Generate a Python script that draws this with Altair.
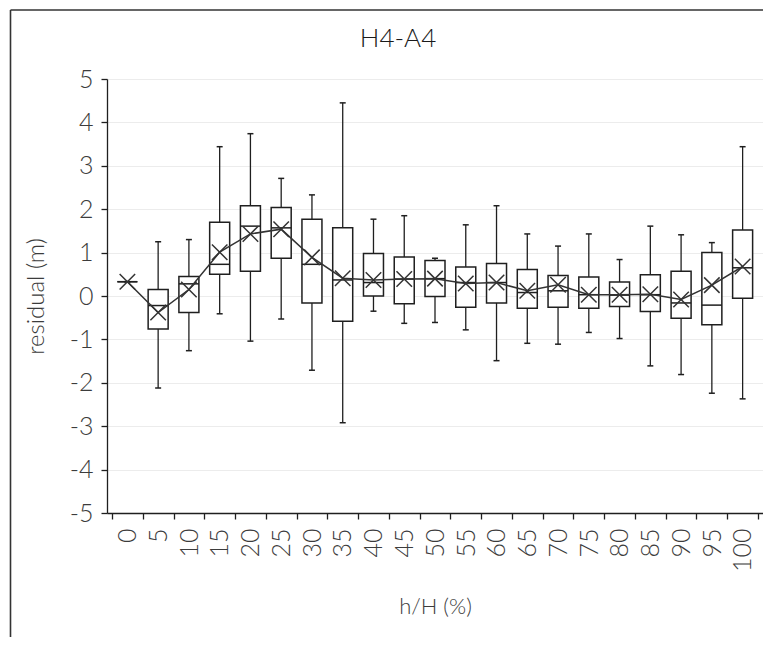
import altair as alt
import pandas as pd

cats = [0, 5, 10, 15, 20, 25, 30, 35, 40, 45, 50, 55, 60, 65, 70, 75, 80, 85, 90, 95, 100]
whisk_hi = [0.33, 1.25, 1.30, 3.44, 3.74, 2.71, 2.33, 4.45, 1.77, 1.85, 0.87, 1.64, 2.08, 1.43, 1.15, 1.43, 0.84, 1.61, 1.41, 1.23, 3.44]
q3 = [0.33, 0.15, 0.45, 1.70, 2.08, 2.04, 1.77, 1.57, 0.98, 0.90, 0.82, 0.67, 0.75, 0.61, 0.47, 0.44, 0.32, 0.49, 0.57, 1.00, 1.52]
median = [0.33, -0.22, 0.28, 0.73, 1.61, 1.57, 0.73, 0.37, 0.31, 0.39, 0.40, 0.31, 0.31, 0.08, 0.12, 0.03, 0.02, 0.03, -0.16, -0.21, 0.65]
mean = [0.33, -0.38, 0.15, 1.01, 1.43, 1.54, 0.89, 0.41, 0.37, 0.39, 0.40, 0.29, 0.31, 0.12, 0.26, 0.03, 0.03, 0.04, -0.08, 0.25, 0.68]
q1 = [0.33, -0.76, -0.38, 0.50, 0.57, 0.87, -0.16, -0.58, 0.00, -0.18, -0.01, -0.26, -0.16, -0.28, -0.26, -0.28, -0.24, -0.36, -0.51, -0.66, -0.05]
whisk_lo = [0.33, -2.12, -1.26, -0.41, -1.04, -0.53, -1.71, -2.92, -0.35, -0.63, -0.61, -0.78, -1.49, -1.09, -1.11, -0.84, -0.98, -1.61, -1.81, -2.24, -2.37]
title_text = "H4-A4"

df = pd.DataFrame({"cat": cats, "hi": whisk_hi, "q3": q3, "med": median,
                   "mean": mean, "q1": q1, "lo": whisk_lo})

FONT = "Lato"
TXT = "#3c3c3c"
INK = "#1f1f1f"

W, H = 656, 434
band = W / len(cats)

boundaries = [c - 2.5 for c in cats] + [102.5]

xscale = alt.Scale(domain=[-2.5, 102.5], nice=False, zero=False)
yscale = alt.Scale(domain=[-5, 5], nice=False)

xaxis = alt.Axis(values=boundaries, tickCount=100,
                 labelExpr="datum.value > 101 ? '' : '' + (datum.value + 2.5)",
                 labelAngle=270, labelAlign="right", labelBaseline="middle",
                 labelOffset=band / 2, labelPadding=9, labelFont=FONT, labelFontSize=25,
                 labelFontWeight=300,
                 labelColor=TXT, tickSize=6, tickColor=INK, domainColor=INK,
                 tickWidth=1.3, domainWidth=1.3, grid=False, title="h/H (%)",
                 titleFont=FONT, titleFontSize=22, titleFontWeight=300, titleColor=TXT,
                 titleX=W / 2, titleY=100, titleBaseline="alphabetic", titleAlign="center",
                 labelFlush=False, labelOverlap=False)
yaxis = alt.Axis(values=list(range(-5, 6)), tickCount=20, labelExpr="'' + datum.value",
                 labelFont=FONT, labelFontSize=25, labelFontWeight=300, labelColor=TXT,
                 labelPadding=8, labelOverlap=False,
                 tickSize=6, tickColor=INK, domainColor=INK, tickWidth=1.3, domainWidth=1.3,
                 grid=True, gridColor="#ececec", gridWidth=1,
                 title="residual (m)", titleFont=FONT, titleFontSize=24,
                 titleFontWeight=300, titleColor=TXT, titleAngle=270,
                 titleX=-64, titleY=H / 2, titleBaseline="alphabetic", titleAlign="center")

base = alt.Chart(df)
X = alt.X("cat:Q", scale=xscale, axis=xaxis)

whisk = base.mark_rule(color=INK, strokeWidth=1.3).encode(
    x=X, y=alt.Y("lo:Q", scale=yscale, axis=yaxis), y2="hi:Q")
box = base.mark_bar(size=20, fill="white", stroke=INK, strokeWidth=1.5).encode(
    x="cat:Q", y="q1:Q", y2="q3:Q")
med = base.mark_rule(color=INK, strokeWidth=1.5, xOffset=-10, x2Offset=10).encode(
    x="cat:Q", x2="cat:Q", y="med:Q")
cap_hi = base.mark_rule(color=INK, strokeWidth=1.5, xOffset=-3, x2Offset=3).encode(
    x="cat:Q", x2="cat:Q", y="hi:Q")
cap_lo = base.mark_rule(color=INK, strokeWidth=1.5, xOffset=-3, x2Offset=3).encode(
    x="cat:Q", x2="cat:Q", y="lo:Q")
line = base.mark_line(color="#333333", strokeWidth=1.5).encode(x="cat:Q", y="mean:Q")
pts = base.mark_point(shape="M-1,-1L1,1M1,-1L-1,1", size=240, filled=False,
                      color="#333333", strokeWidth=1.5, opacity=1).encode(x="cat:Q", y="mean:Q")

one = pd.DataFrame({"t": [title_text]})
frame_top = alt.Chart(one).mark_rule(color="#333333", strokeWidth=1.6).encode(
    x=alt.value(-96.5), x2=alt.value(700), y=alt.value(-69))
frame_left = alt.Chart(one).mark_rule(color="#333333", strokeWidth=1.6).encode(
    x=alt.value(-96.5), y=alt.value(-69), y2=alt.value(600))
title = alt.Chart(one).mark_text(font=FONT, fontSize=26, fontWeight=300, color="#1a1a1a",
                                 align="center", baseline="alphabetic").encode(
    x=alt.value(291), y=alt.value(-32), text="t:N")

chart = alt.layer(frame_top, frame_left, title, whisk, box, med, cap_hi, cap_lo, line, pts).properties(
    width=W, height=H,
    autosize=alt.AutoSizeParams(type="none"),
    padding={"left": 99, "top": 71, "right": 0, "bottom": 124},
).configure_view(stroke=None).configure(background="white")

chart.save("out.html", embed_options={"renderer": "svg", "actions": False})
